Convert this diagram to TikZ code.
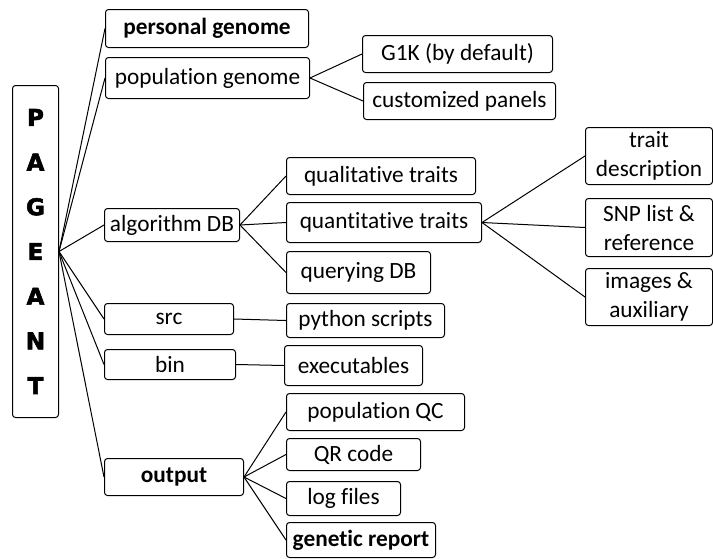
\documentclass[tikz,border=0pt]{standalone}
\usepackage{fontspec}
\setmainfont{Carlito}[Ligatures=NoCommon]
\newfontfamily\heavyfont{DejaVu Sans}[BoldFeatures={FakeBold=2.5}]
\tikzset{
  box/.style={draw, line width=1pt, rounded corners=3pt, anchor=north west,
    inner sep=0pt, align=center, font=\fontsize{23.3}{29}\selectfont},
  boldbox/.style={box, font=\fontsize{23.3}{29}\selectfont\bfseries},
}
\begin{document}
\begin{tikzpicture}[x=1pt, y=-1pt, line width=1pt]
\useasboundingbox (0,0) rectangle (713,558);
\node[box, minimum width=46pt, minimum height=332pt,
  font=\heavyfont\bfseries\fontsize{23}{44.7}\selectfont] (pg0) at (12,85) {P\\A\\G\\E\\A\\N\\T};
\node[boldbox, minimum width=203pt, minimum height=38pt] (pg1) at (105,9) {personal genome};
\node[box, minimum width=204pt, minimum height=41pt] (pg2) at (105,57) {population genome};
\node[box, minimum width=190pt, minimum height=37pt] (pg3) at (362,35) {G1K (by default)};
\node[box, minimum width=192pt, minimum height=37pt] (pg4) at (363,82) {customized panels};
\draw[](pg2.east) -- (pg3.west);
\draw[](pg2.east) -- (pg4.west);
\node[box, minimum width=135pt, minimum height=33pt] (pg5) at (104,208) {algorithm DB};
\node[box, minimum width=189pt, minimum height=37pt] (pg6) at (286,157) {qualitative traits};
\node[box, minimum width=195pt, minimum height=40pt] (pg7) at (286,202) {quantitative traits};
\node[box, minimum width=144pt, minimum height=42pt] (pg8) at (286,251) {querying DB};
\draw[](pg5.east) -- (pg6.west);
\draw[](pg5.east) -- (pg7.west);
\draw[](pg5.east) -- (pg8.west);
\node[box, minimum width=127pt, minimum height=57pt] (pg9) at (585,127) {trait\\description};
\node[box, minimum width=127pt, minimum height=58pt] (pg10) at (585,198) {SNP list \&\\reference};
\node[box, minimum width=127pt, minimum height=57pt] (pg11) at (585,268) {images \&\\auxiliary};
\draw[](pg7.east) -- (pg9.west);
\draw[](pg7.east) -- (pg10.west);
\draw[](pg7.east) -- (pg11.west);
\node[box, minimum width=129pt, minimum height=31pt] (pg12) at (104,303) {src};
\node[box, minimum width=158pt, minimum height=34pt] (pg13) at (286,303) {python scripts};
\draw[](pg12.east) -- (pg13.west);
\node[box, minimum width=131pt, minimum height=30pt] (pg14) at (104,349) {bin};
\node[box, minimum width=138pt, minimum height=40pt] (pg15) at (284,345) {executables};
\draw[](pg14.east) -- (pg15.west);
\node[boldbox, minimum width=139pt, minimum height=37pt] (pg16) at (104,458) {output};
\node[box, minimum width=178pt, minimum height=37pt] (pg17) at (286,393) {population QC};
\node[box, minimum width=134pt, minimum height=32pt] (pg18) at (286,438) {QR code};
\node[box, minimum width=114pt, minimum height=34pt] (pg19) at (286,481) {log files};
\node[boldbox, minimum width=149pt, minimum height=35pt] (pg20) at (286,522) {genetic report};
\draw[](pg16.east) -- (pg17.west);
\draw[](pg16.east) -- (pg18.west);
\draw[](pg16.east) -- (pg19.west);
\draw[](pg16.east) -- (pg20.west);
\draw[](pg0.east) -- (pg1.west);
\draw[](pg0.east) -- (pg2.west);
\draw[](pg0.east) -- (pg5.west);
\draw[](pg0.east) -- (pg12.west);
\draw[](pg0.east) -- (pg14.west);
\draw[](pg0.east) -- (pg16.west);
\end{tikzpicture}
\end{document}
